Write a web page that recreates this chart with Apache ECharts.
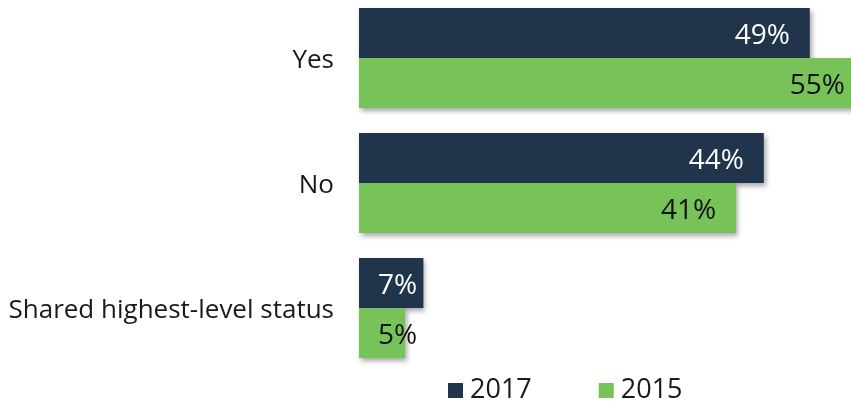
<!DOCTYPE html>
<html>
<head>
<meta charset="utf-8">
<script src="https://cdn.jsdelivr.net/npm/echarts@6/dist/echarts.min.js"></script>
<style>
  html, body { margin: 0; padding: 0; background: #ffffff; }
  #chart { width: 851px; height: 406px; }
</style>
</head>
<body>
<div id="chart"></div>
<script>
// Answer categories, top to bottom
const categories = ['Yes', 'No', 'Shared highest-level status'];
// Share of respondents per survey year (%)
const values2017 = [49, 44, 7];
const values2015 = [55, 41, 5];
const seriesNames = ['2017', '2015'];

const FONT = '"Open Sans", "DejaVu Sans", sans-serif';
const NAVY = '#20354b';
const GREEN = '#78c25a';

const chart = echarts.init(document.getElementById('chart'), null, { renderer: 'canvas' });

const shadow = {
  shadowColor: 'rgba(0,0,0,0.35)',
  shadowBlur: 5,
  shadowOffsetX: 2,
  shadowOffsetY: 3
};

function labelFor(color) {
  return {
    show: true,
    position: 'insideRight',
    distance: 20,
    offset: [0, 3],
    color: color,
    fontFamily: FONT,
    fontSize: 28,
    formatter: p => p.value + '%'
  };
}

// Short bars keep their labels anchored near the bar start
function withLabelTweaks(values, color) {
  return values.map(v => {
    if (v > 10) return v;
    return {
      value: v,
      label: { position: 'insideLeft', distance: 19, color: color }
    };
  });
}

chart.setOption({
  animation: false,
  backgroundColor: '#ffffff',
  grid: {
    left: 359, top: -4.5, width: 506, height: 375,
    containLabel: false,
    outerBoundsMode: 'none'
  },
  xAxis: {
    type: 'value',
    min: 0,
    max: 55,
    show: false
  },
  yAxis: {
    type: 'category',
    data: categories,
    inverse: true,
    axisLine: { show: false },
    axisTick: { show: false },
    splitLine: { show: false },
    axisLabel: {
      margin: 25,
      color: '#1a1a1a',
      fontFamily: FONT,
      fontSize: 26,
      verticalAlign: 'top',
      lineHeight: 6
    }
  },
  legend: {
    data: seriesNames,
    left: 448,
    top: 377,
    padding: 0,
    itemWidth: 15,
    itemHeight: 15,
    itemGap: 67,
    icon: 'rect',
    textStyle: { color: '#1a1a1a', fontFamily: FONT, fontSize: 27, padding: [3, 0, 0, 2] }
  },
  series: [
    {
      name: seriesNames[0],
      type: 'bar',
      data: withLabelTweaks(values2017, '#ffffff'),
      barWidth: 50,
      barGap: '0%',
      itemStyle: Object.assign({ color: NAVY }, shadow),
      label: labelFor('#ffffff')
    },
    {
      name: seriesNames[1],
      type: 'bar',
      data: withLabelTweaks(values2015, '#111111'),
      barWidth: 50,
      itemStyle: Object.assign({ color: GREEN }, shadow),
      label: labelFor('#111111'),
      z: 3
    }
  ]
});
</script>
</body>
</html>
